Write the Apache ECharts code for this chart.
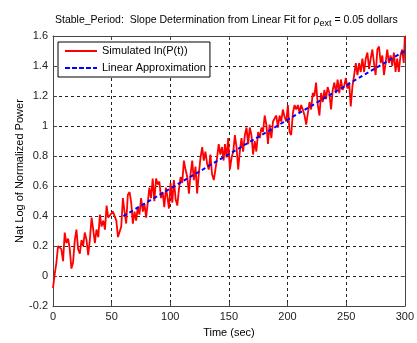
<!DOCTYPE html>
<html>
<head>
<meta charset="utf-8">
<script src="https://cdn.jsdelivr.net/npm/echarts@6/dist/echarts.min.js"></script>
<style>html,body{margin:0;padding:0;background:#fff;}#c{width:417px;height:343px;}</style>
</head>
<body>
<div id="c"></div>
<script>
var simTimes = [0,1.4,2.9,4.3,5.7,7.1,8.6,10,11.4,12.9,14.3,15.7,17.1,18.6,20,21.4,22.9,24.3,25.7,27.1,28.6,30,31.4,32.9,34.3,35.7,37.1,38.6,40,41.4,42.9,44.3,45.7,47.1,
48.3,51.1,54.0,55.4,56.8,58.2,59.6,61.0,62.4,63.8,65.3,66.7,68.1,69.5,70.9,72.3,73.7,75.1,76.6,78.0,79.4,80.8,82.2,83.6,85.0,86.4,87.9,89.3,90.7,92.1,93.5,94.9,96.3,
97.5,98.9,100.3,101.7,103.1,104.6,106.0,107.4,108.8,110.2,111.6,113.0,114.5,115.9,117.3,118.7,120.1,121.5,122.9,124.3,125.8,127.2,128.6,130.0,131.4,132.8,134.2,135.6,137.1,138.5,139.9,141.3,142.7,144.1,145.5,
146.6,148.0,149.4,150.8,152.3,153.7,155.1,156.5,157.9,159.3,160.7,162.1,163.6,165.0,166.4,167.8,169.2,170.6,172.0,173.4,174.9,176.3,177.7,179.1,180.5,181.9,183.3,184.7,186.2,187.6,189.0,190.4,191.8,193.2,194.6,196.0,
197.5,198.9,200.3,201.7,203.1,204.6,206.0,207.4,208.8,210.2,211.6,213.0,214.5,215.9,217.3,218.7,220.1,221.5,222.9,224.3,225.8,227.2,228.6,230.0,231.4,232.8,234.2,235.6,237.1,238.5,239.9,241.3,242.7,244.1,245.5,247.0,
248.4,249.7,251.1,252.5,253.9,255.4,256.8,258.2,259.6,261.0,262.4,263.8,265.3,266.7,268.1,269.5,270.9,272.3,273.7,275.1,276.6,278.0,279.4,280.8,282.2,283.6,285.0,286.4,287.9,289.3,290.7,292.1,293.5,294.9,296.3,297.7,299.1,300];
var simLogP = [-0.08,0.01,0.09,0.20,0.19,0.18,0.10,0.29,0.22,0.25,0.18,0.05,0.09,0.24,0.31,0.18,0.15,0.24,0.20,0.29,0.24,0.14,0.24,0.39,0.31,0.22,0.31,0.26,0.41,0.33,0.37,0.31,0.47,0.39,
0.40,0.43,0.37,0.26,0.25,0.33,0.52,0.43,0.35,0.54,0.56,0.49,0.35,0.43,0.37,0.46,0.41,0.52,0.43,0.48,0.39,0.49,0.59,0.52,0.65,0.50,0.65,0.61,0.63,0.52,0.56,0.46,0.59,
0.53,0.45,0.62,0.49,0.64,0.51,0.47,0.58,0.66,0.62,0.77,0.71,0.66,0.55,0.68,0.77,0.64,0.73,0.55,0.68,0.79,0.86,0.77,0.83,0.75,0.71,0.81,0.68,0.64,0.71,0.79,0.88,0.81,0.86,0.77,
0.88,0.79,0.92,0.71,0.79,0.83,0.94,0.86,0.71,0.83,0.92,0.83,0.94,0.99,0.88,0.99,0.94,0.81,0.90,0.83,0.96,0.92,0.99,0.96,1.07,1.01,0.88,1.01,0.92,1.03,1.05,1.07,0.99,1.07,1.03,1.11,
1.06,1.03,1.14,0.96,0.94,1.09,1.14,1.11,1.14,1.09,1.14,1.11,1.07,1.01,1.00,1.16,1.11,1.22,1.20,1.29,1.14,1.07,1.22,1.16,1.24,1.18,1.26,1.22,1.11,1.24,1.29,1.22,1.31,1.22,1.31,1.24,
1.27,1.32,1.25,1.29,1.13,1.27,1.34,1.42,1.34,1.42,1.36,1.45,1.36,1.45,1.49,1.38,1.45,1.51,1.42,1.34,1.51,1.53,1.42,1.47,1.34,1.42,1.51,1.42,1.47,1.40,1.49,1.36,1.45,1.36,1.47,1.51,1.42,1.60];
var fitTimes = [60, 300];
var fitLogP = [0.40, 1.50];
var xTicks = {min: 0, max: 300, interval: 50};
var yTicks = {min: -0.2, max: 1.6, interval: 0.2};

function pairs(a, b) { return a.map(function (t, i) { return [t, b[i]]; }); }

var FONT = 'Liberation Sans, Arial, sans-serif';
var axisLineStyle = {color: '#444', width: 1};
var solidIcon = 'path://M0,0h32v2h-32z';
var dashIcon = 'path://M0,0h5v2h-5z M7,0h5v2h-5z M14,0h5v2h-5z M21,0h5v2h-5z M28,0h4v2h-4z';
var chart = echarts.init(document.getElementById('c'));
chart.setOption({
  backgroundColor: '#fff',
  animation: false,
  title: {
    text: 'Stable_Period:  Slope Determination from Linear Fit for ρ{sub|ext} = 0.05 dollars',
    left: 55, top: 12, padding: 0,
    textStyle: {
      fontFamily: FONT, fontSize: 10.5, fontWeight: 'normal', color: '#000',
      rich: {sub: {fontFamily: FONT, fontSize: 9, color: '#000', padding: [7, 0, 0, 0]}}
    }
  },
  legend: {
    left: 58, top: 42, orient: 'vertical',
    itemWidth: 32, itemHeight: 2, itemGap: 5,
    padding: [3, 4, 3, 7],
    backgroundColor: '#fff', borderColor: '#000', borderWidth: 1, borderRadius: 0,
    textStyle: {fontFamily: FONT, fontSize: 11, color: '#000', lineHeight: 12},
    data: [
      {name: 'Simulated ln(P(t))', icon: solidIcon, itemStyle: {color: '#ff0000'}},
      {name: 'Linear Approximation', icon: dashIcon, itemStyle: {color: '#0000ff'}}
    ]
  },
  grid: {left: 53, right: 10, top: 36, bottom: 28},
  xAxis: [{
    type: 'value', min: xTicks.min, max: xTicks.max, interval: xTicks.interval,
    name: 'Time (sec)', nameLocation: 'middle', nameGap: 15,
    nameTextStyle: {fontFamily: FONT, fontSize: 11, color: '#000'},
    axisLine: {show: true, onZero: false, lineStyle: axisLineStyle},
    axisTick: {show: true, inside: true, length: 4, lineStyle: axisLineStyle},
    axisLabel: {fontFamily: FONT, fontSize: 11, color: '#222', margin: 5},
    splitLine: {show: true, lineStyle: {color: '#222', type: [3, 3], width: 1}}
  }, {
    type: 'value', position: 'top', min: xTicks.min, max: xTicks.max, interval: xTicks.interval,
    axisLine: {show: true, onZero: false, lineStyle: axisLineStyle},
    axisTick: {show: true, inside: true, length: 4, lineStyle: axisLineStyle},
    axisLabel: {show: false}, splitLine: {show: false}
  }],
  yAxis: [{
    type: 'value', min: yTicks.min, max: yTicks.max, interval: yTicks.interval,
    name: 'Nat Log of Normalized Power', nameLocation: 'middle', nameGap: 28, nameMoveOverlap: false,
    nameTextStyle: {fontFamily: FONT, fontSize: 11, color: '#000'},
    axisLine: {show: true, onZero: false, lineStyle: axisLineStyle},
    axisTick: {show: true, inside: true, length: 4, lineStyle: axisLineStyle},
    axisLabel: {fontFamily: FONT, fontSize: 11, color: '#222', margin: 5},
    splitLine: {show: true, lineStyle: {color: '#222', type: [3, 3], width: 1}}
  }, {
    type: 'value', position: 'right', min: yTicks.min, max: yTicks.max, interval: yTicks.interval,
    axisLine: {show: true, onZero: false, lineStyle: axisLineStyle},
    axisTick: {show: true, inside: true, length: 4, lineStyle: axisLineStyle},
    axisLabel: {show: false}, splitLine: {show: false}
  }],
  series: [{
    name: 'Simulated ln(P(t))', type: 'line', symbol: 'none',
    data: pairs(simTimes, simLogP),
    lineStyle: {color: '#ff0000', width: 1.8},
    itemStyle: {color: '#ff0000'},
    z: 2
  }, {
    name: 'Linear Approximation', type: 'line', symbol: 'none',
    data: pairs(fitTimes, fitLogP),
    lineStyle: {color: '#0000ff', width: 2, type: [4, 3]},
    itemStyle: {color: '#0000ff'},
    z: 3
  }]
});
</script>
</body>
</html>
